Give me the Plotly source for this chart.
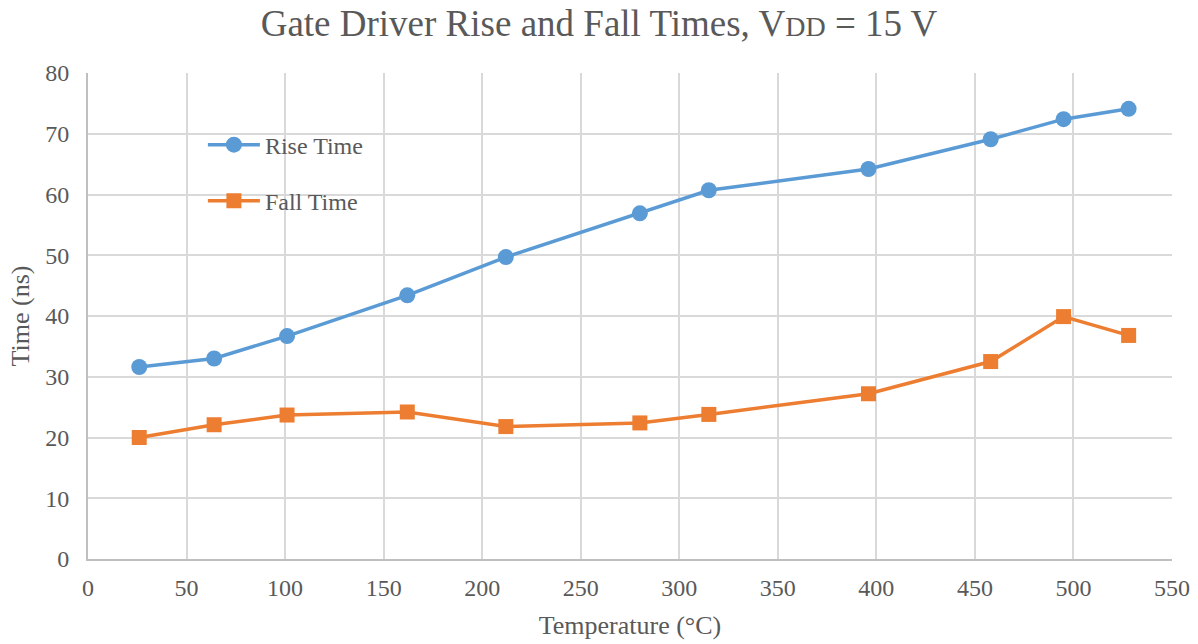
import plotly.graph_objects as go

# Gate driver switching times versus temperature
temperature_c = [26, 64, 101, 162, 212, 280, 315, 396, 458, 495, 528]
rise_time_ns = [31.6, 33.0, 36.7, 43.4, 49.7, 56.9, 60.7, 64.2, 69.1, 72.4, 74.1]
fall_time_ns = [20.0, 22.1, 23.7, 24.2, 21.8, 22.4, 23.8, 27.2, 32.5, 39.9, 36.8]

x_ticks = list(range(0, 551, 50))
y_ticks = list(range(0, 81, 10))

BLUE = "#5B9BD5"
ORANGE = "#ED7D31"
GRID = "#D9D9D9"
TEXT = "#595959"
FONT = "Liberation Serif, Times New Roman, serif"

fig = go.Figure()
fig.add_trace(go.Scatter(
    x=temperature_c, y=rise_time_ns, name="Rise Time", legendgroup="rise",
    mode="lines+markers",
    line=dict(color=BLUE, width=3.5),
    marker=dict(symbol="circle", size=16, color=BLUE),
))
fig.add_trace(go.Scatter(
    x=temperature_c, y=fall_time_ns, name="Fall Time", legendgroup="fall",
    mode="lines+markers",
    line=dict(color=ORANGE, width=3.5),
    marker=dict(symbol="square", size=15, color=ORANGE),
))

fig.update_layout(
    width=1198, height=644,
    margin=dict(l=88, r=26, t=73, b=85),
    paper_bgcolor="white", plot_bgcolor="white",
    font=dict(family=FONT, color=TEXT, size=24),
    title=dict(
        text="Gate Driver Rise and Fall Times, V<span style='font-size:28px'>DD</span> = 15 V",
        x=0.5, xanchor="center", y=0.985, yanchor="top",
        font=dict(size=37, color=TEXT, family=FONT),
    ),
    legend=dict(
        x=0.106, y=0.898, xanchor="left", yanchor="top",
        bgcolor="rgba(0,0,0,0)",
        font=dict(size=24, color=TEXT, family=FONT),
        traceorder="grouped", tracegroupgap=22,
        itemwidth=52,
    ),
    showlegend=True,
)

fig.update_xaxes(
    range=[0, 550], tickvals=x_ticks, ticktext=[str(v) for v in x_ticks],
    showgrid=True, gridcolor=GRID, gridwidth=2,
    showline=True, linecolor="#BFBFBF", linewidth=2,
    zeroline=False, ticks="", ticklabelstandoff=6, automargin=False,
    title=dict(text="Temperature (°C)", font=dict(size=26, color=TEXT, family=FONT), standoff=16),
    tickfont=dict(size=24, color=TEXT, family=FONT),
)
fig.update_yaxes(
    range=[0, 80], tickvals=y_ticks, ticktext=[str(v) for v in y_ticks],
    showgrid=True, gridcolor=GRID, gridwidth=2,
    showline=True, linecolor="#BFBFBF", linewidth=2,
    zeroline=False, ticks="", ticklabelstandoff=12, automargin=False,
    title=dict(text="Time (ns)", font=dict(size=26, color=TEXT, family=FONT), standoff=8),
    tickfont=dict(size=24, color=TEXT, family=FONT),
)

fig.write_html("out.html")
